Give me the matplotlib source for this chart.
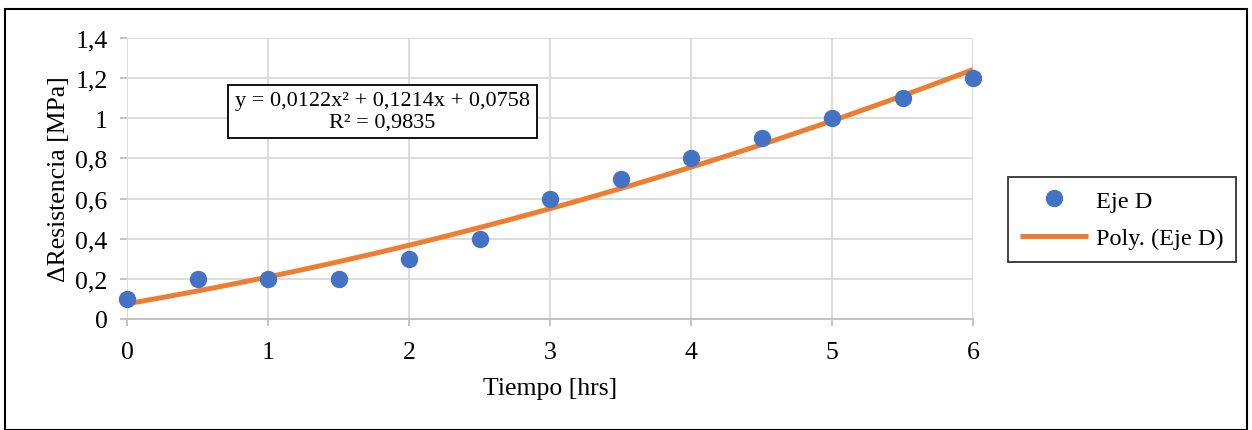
import numpy as np
import matplotlib
matplotlib.use("Agg")
import matplotlib.pyplot as plt
from matplotlib.ticker import FuncFormatter
from matplotlib.patches import Rectangle

# data
tiempo = [0, 0.5, 1, 1.5, 2, 2.5, 3, 3.5, 4, 4.5, 5, 5.5, 6]
resistencia = [0.1, 0.2, 0.2, 0.2, 0.3, 0.4, 0.6, 0.7, 0.8, 0.9, 1.0, 1.1, 1.2]
x_ticks = [0, 1, 2, 3, 4, 5, 6]
y_ticks = [0, 0.2, 0.4, 0.6, 0.8, 1.0, 1.2, 1.4]
ecuacion = "y = 0,0122x\u00b2 + 0,1214x + 0,0758\nR\u00b2 = 0,9835"

plt.rcParams['font.family'] = ['Liberation Serif', 'DejaVu Serif']

fig = plt.figure(figsize=(12.52, 4.31), dpi=100)
ax = fig.add_axes([127 / 1252, 1 - 320 / 431, 846 / 1252, 281 / 431])

# polynomial trend line (order 2) from the points
coef = np.polyfit(tiempo, resistencia, 2)
xs = np.linspace(0, 6, 200)
ax.plot(xs, np.polyval(coef, xs), color="#ED7D31", lw=3.6, zorder=2,
        label="Poly. (Eje D)", solid_capstyle="butt", clip_on=False)
ax.plot(tiempo, resistencia, "o", color="#4472C4", ms=11.5, zorder=3,
        label="Eje D", clip_on=False)

ax.set_xlim(0, 6)
ax.set_ylim(0, 1.4)
ax.set_xticks(x_ticks)
ax.set_yticks(y_ticks)
fmt = FuncFormatter(lambda v, p: ("%g" % round(v, 2)).replace(".", ","))
ax.xaxis.set_major_formatter(fmt)
ax.yaxis.set_major_formatter(fmt)
ax.grid(True, color="#D9D9D9", lw=1.3, zorder=0)
ax.set_axisbelow(True)
for s in ["top", "right", "left"]:
    ax.spines[s].set_visible(False)
ax.spines["bottom"].set_color("#BFBFBF")
ax.spines["bottom"].set_linewidth(1.3)
ax.tick_params(axis="both", colors="#BFBFBF", labelcolor="black", length=5,
               width=1.3, labelsize=18.5)
ax.tick_params(axis="x", pad=11)
ax.tick_params(axis="y", pad=9)

ax.set_xlabel("Tiempo [hrs]", fontsize=18.5, labelpad=10)
ax.set_ylabel("\u0394Resistencia [MPa]", fontsize=18.5, labelpad=4)

ax.text(382.5 / 1252, 1 - 112.5 / 431, ecuacion, transform=fig.transFigure,
        ha="center", va="center", fontsize=16, linespacing=1.15,
        bbox=dict(boxstyle="square,pad=0.3", fc="white", ec="black", lw=1.3))

h, l = ax.get_legend_handles_labels()
leg = fig.legend(h[::-1], l[::-1], loc="center", bbox_to_anchor=(1122 / 1252, 1 - 220.5 / 431),
                 fontsize=17.5, frameon=True, fancybox=False, edgecolor="black",
                 handlelength=2.8, borderpad=0.5, labelspacing=0.65, handletextpad=0.35,
                 borderaxespad=0)
leg.get_frame().set_linewidth(1.3)

fig.patches.append(Rectangle((5 / 1252, 0), 1242 / 1252, 1 - 10 / 431,
                             transform=fig.transFigure, fill=False,
                             ec="black", lw=1.5))

fig.savefig("out.png", dpi=100)
